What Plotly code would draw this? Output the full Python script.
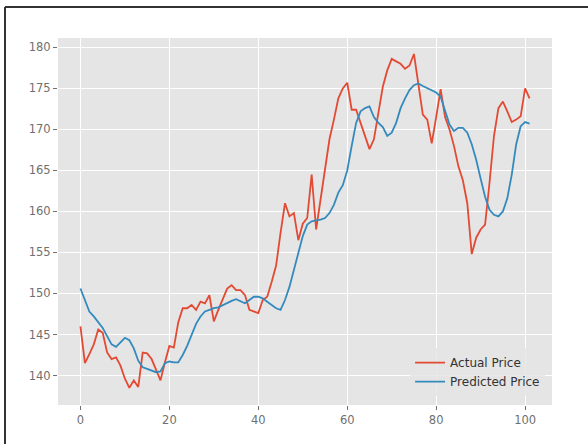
import plotly.graph_objects as go

actual_price = [
    146.0, 141.5, 142.6, 143.8, 145.6, 145.2, 142.8, 142.0, 142.2, 141.2,
    139.6, 138.5, 139.4, 138.6, 142.8, 142.7, 142.0, 140.6, 139.4, 141.6,
    143.6, 143.4, 146.5, 148.2, 148.2, 148.6, 148.0, 149.0, 148.8, 149.8,
    146.6, 148.0, 149.4, 150.6, 151.0, 150.4, 150.4, 149.8, 148.0, 147.8,
    147.6, 149.2, 149.6, 151.4, 153.4, 157.4, 161.0, 159.4, 159.8, 156.5,
    158.5, 159.2, 164.5, 157.8, 161.5, 165.5, 168.8, 171.2, 173.8, 175.0,
    175.7, 172.4, 172.4, 170.8, 169.2, 167.6, 168.8, 172.2, 175.2, 177.2,
    178.6, 178.3, 178.0, 177.4, 177.8, 179.2, 175.5, 171.8, 171.2, 168.3,
    171.5, 174.9, 171.5, 170.0, 168.0, 165.5, 163.8, 161.0, 154.8, 156.8,
    157.8, 158.4, 163.5, 169.2, 172.6, 173.4, 172.2, 170.9, 171.2, 171.6,
    175.0, 173.8,
]

predicted_price = [
    150.6, 149.2, 147.8, 147.2, 146.5, 145.8, 144.8, 143.8, 143.5, 144.1,
    144.6, 144.3, 143.3, 141.8, 141.0, 140.8, 140.6, 140.4, 140.5, 141.5,
    141.7, 141.6, 141.6, 142.5, 143.6, 145.0, 146.3, 147.2, 147.8, 148.0,
    148.2, 148.3, 148.6, 148.8, 149.1, 149.3, 149.0, 148.8, 149.2, 149.6,
    149.6, 149.4, 149.0, 148.6, 148.2, 148.0, 149.2, 150.8, 152.8, 154.8,
    157.0, 158.4, 158.8, 158.9, 159.0, 159.2, 159.8, 160.8, 162.3, 163.2,
    165.0, 168.0, 170.8, 172.2, 172.6, 172.8, 171.5, 170.8, 170.3, 169.2,
    169.6, 170.8, 172.6, 173.8, 174.8, 175.4, 175.6, 175.3, 175.0, 174.8,
    174.5, 174.0, 172.4, 170.6, 169.8, 170.2, 170.2, 169.6, 168.2, 166.3,
    164.0, 161.8, 160.2, 159.6, 159.4, 160.0, 161.6, 164.5, 168.2, 170.4,
    170.9, 170.7,
]

x_index = list(range(len(actual_price)))
x_ticks = [0, 20, 40, 60, 80, 100]
y_ticks = [140, 145, 150, 155, 160, 165, 170, 175, 180]

fig = go.Figure()
fig.add_trace(go.Scatter(x=x_index, y=actual_price, mode="lines", name="Actual Price",
                         line=dict(color="#E24A33", width=1.8)))
fig.add_trace(go.Scatter(x=x_index, y=predicted_price, mode="lines", name="Predicted Price",
                         line=dict(color="#348ABD", width=1.8)))

fig.update_layout(
    width=588, height=444,
    margin=dict(l=58, r=36, t=38, b=39),
    paper_bgcolor="white",
    plot_bgcolor="#E5E5E5",
    font=dict(family="DejaVu Sans", size=11.5, color="#707070"),
    showlegend=True,
    legend=dict(
        x=0.986, y=0.024, xanchor="right", yanchor="bottom",
        bgcolor="rgba(229,229,229,0.8)",
        font=dict(size=12, color="#333333"),
        borderwidth=0,
    ),
    xaxis=dict(
        range=[-5.05, 106.05], tickvals=x_ticks, ticktext=[str(v) for v in x_ticks],
        showgrid=True, gridcolor="white", gridwidth=1.2, zeroline=False,
        ticks="outside", ticklen=4, tickcolor="#707070", showline=False,
    ),
    yaxis=dict(
        range=[136.4, 181.15], tickvals=y_ticks, ticktext=[str(v) for v in y_ticks],
        showgrid=True, gridcolor="white", gridwidth=1.2, zeroline=False,
        ticks="outside", ticklen=4, tickcolor="#707070", showline=False,
    ),
    shapes=[
        dict(type="line", xref="paper", yref="paper",
             x0=(5 - 58) / 494, x1=(590 - 58) / 494,
             y0=(405 - 7) / 367, y1=(405 - 7) / 367,
             line=dict(color="#333333", width=2)),
        dict(type="line", xref="paper", yref="paper",
             x0=(5 - 58) / 494, x1=(5 - 58) / 494,
             y0=(405 - 7) / 367, y1=(405 - 446) / 367,
             line=dict(color="#333333", width=2)),
    ],
)

fig.write_html(
    "out.html",
    config={"displayModeBar": False},
    post_script="document.body.style.margin='0';document.body.style.overflow='hidden';",
)
